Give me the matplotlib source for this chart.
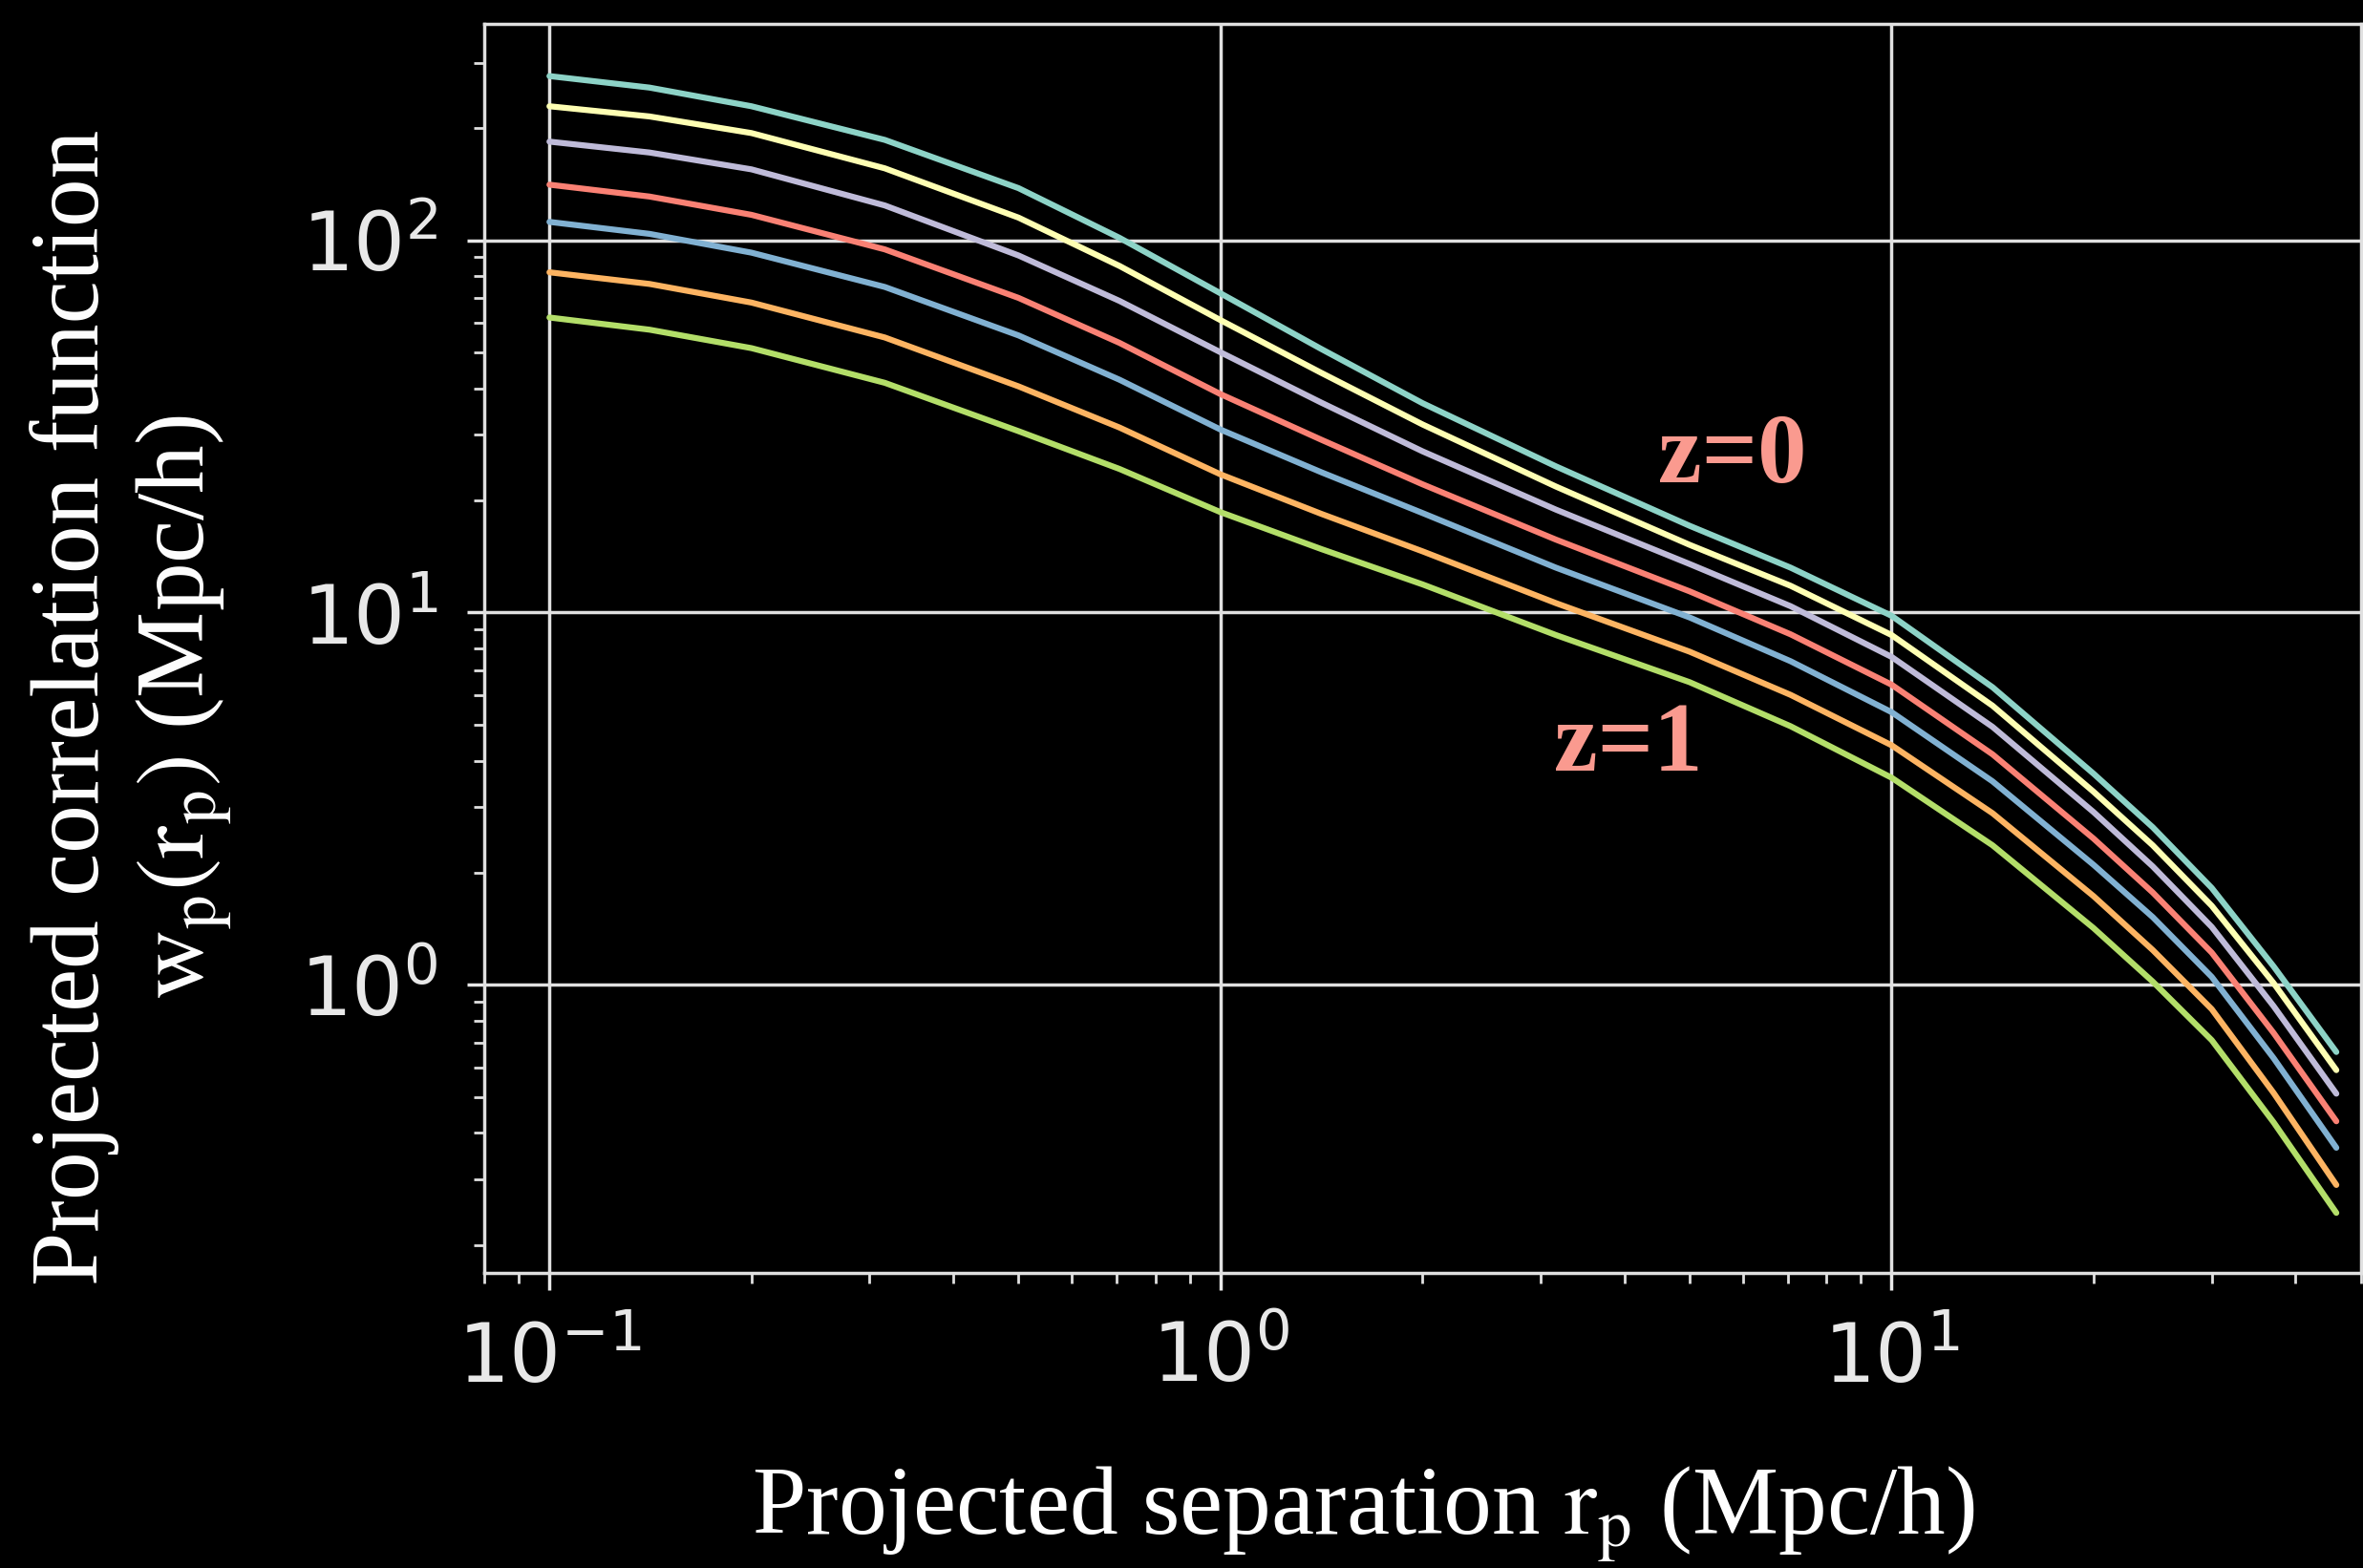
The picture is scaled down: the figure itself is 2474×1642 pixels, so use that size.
import numpy as np
import matplotlib
matplotlib.use('Agg')
import matplotlib.pyplot as plt

rp = [0.1, 0.141, 0.2, 0.316, 0.5, 0.707, 1.0, 1.414, 2.0, 3.16, 5.0,
      7.07, 10.0, 14.14, 20.0, 24.5, 30.0, 37.1, 46.0]

# w_p(r_p), one curve per redshift, z=0 (top) to z=1 (bottom)
wp_0 = [276, 257, 229, 186, 138, 101.5, 72.0, 51.0, 36.5, 24.7, 17.1,
        13.2, 9.8, 6.30, 3.69, 2.65, 1.82, 1.12, 0.66]
wp_1 = [229, 215, 194, 156, 115, 85.3, 61.0, 44.0, 32.0, 21.8, 15.2,
        11.8, 8.7, 5.62, 3.30, 2.37, 1.63, 1.01, 0.59]
wp_2 = [184, 172, 155, 124, 91.0, 68.7, 50.0, 36.6, 27.1, 18.9, 13.5,
        10.4, 7.6, 4.93, 2.91, 2.08, 1.43, 0.876, 0.51]
wp_3 = [141, 131, 117, 94.5, 70.0, 53.0, 38.6, 29.1, 22.1, 15.7, 11.4,
        8.74, 6.4, 4.16, 2.47, 1.77, 1.22, 0.742, 0.43]
wp_4 = [112, 104, 92.6, 74.9, 55.5, 42.2, 31.0, 23.8, 18.5, 13.2, 9.7,
        7.40, 5.4, 3.52, 2.10, 1.52, 1.05, 0.635, 0.365]
wp_5 = [82.0, 76.3, 68.0, 54.8, 40.5, 31.4, 23.5, 18.4, 14.6, 10.6, 7.85,
        6.01, 4.4, 2.89, 1.73, 1.24, 0.86, 0.512, 0.29]
wp_6 = [62.0, 57.5, 51.3, 41.4, 30.7, 24.3, 18.6, 14.8, 11.9, 8.70, 6.5,
        4.95, 3.6, 2.37, 1.42, 1.02, 0.71, 0.427, 0.244]
curves = [wp_0, wp_1, wp_2, wp_3, wp_4, wp_5, wp_6]

plt.style.use('dark_background')
plt.rcParams['mathtext.fontset'] = 'stix'
plt.rcParams['font.family'] = ['DejaVu Sans']

fig = plt.figure(figsize=(24.74, 16.42), dpi=100)
ax = fig.add_axes([0.205, 0.188, 0.794, 0.797])

for wp in curves:
    ax.plot(rp, wp, lw=4.5, solid_capstyle='round', solid_joinstyle='round')

ax.set_xscale('log')
ax.set_yscale('log')
ax.set_xlim(0.08, 50)
ax.set_ylim(0.168, 382)
ax.grid(True, which='major', color='#e0e0e0', lw=2.5)

for s in ax.spines.values():
    s.set_linewidth(2.5)
    s.set_color('#e0e0e0')
ax.tick_params(which='major', length=13, width=2.5, pad=22, labelsize=61, colors='#e8e8e8')
ax.tick_params(which='minor', length=8, width=2, colors='#e0e0e0')

serif = 'Liberation Serif'
fig.text(0.056, 0.549, 'Projected correlation function\n$\\mathrm{w_p(r_p)}$ (Mpc/h)',
         rotation=90, ha='center', va='center', multialignment='center',
         fontsize=73, family=serif, color='white', linespacing=1.2)
fig.text(0.577, 0.034, 'Projected separation $\\mathrm{r_p}$ (Mpc/h)',
         ha='center', va='center', fontsize=73, family=serif, color='white')

ax.text(5.8, 25.9, 'z=0', ha='center', va='center', fontsize=74,
        family=serif, weight='bold', color='#fa9a8f')
ax.text(4.05, 4.37, 'z=1', ha='center', va='center', fontsize=74,
        family=serif, weight='bold', color='#fa9a8f')

fig.savefig('out.png', dpi=100, facecolor='black')
